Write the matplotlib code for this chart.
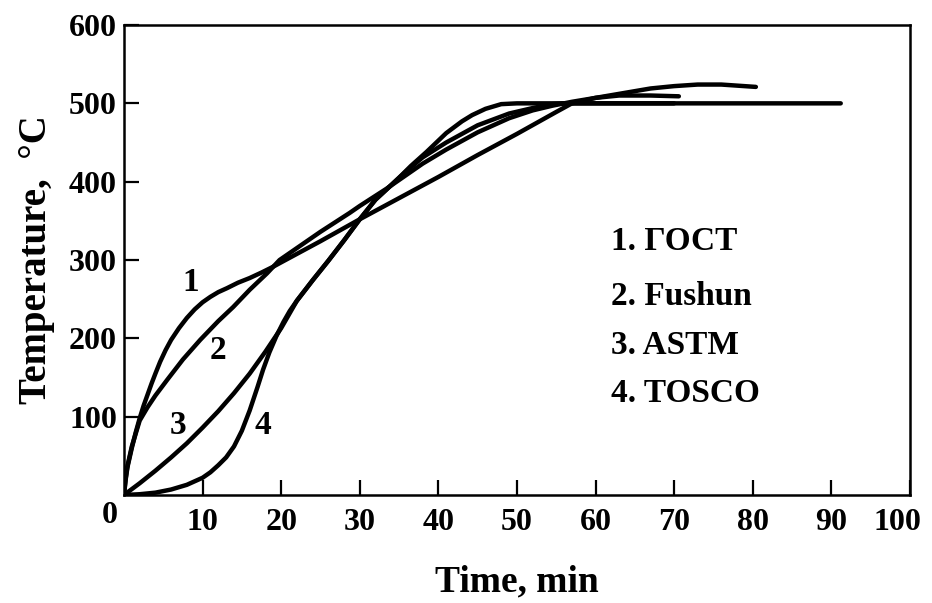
import matplotlib
matplotlib.use("Agg")
import matplotlib.pyplot as plt
from matplotlib.transforms import ScaledTranslation

# ---- data ----
t1 = [0, 0.2, 0.5, 1, 1.5, 2, 2.5, 3, 3.5, 4, 4.6, 5.3, 6, 7, 8, 9, 10, 11, 12, 13.1,
      14.5, 16, 17.5, 18.9, 20, 25, 30, 35, 40, 45, 50, 55, 57, 60, 63.5, 67, 70, 73,
      76, 80.4]
T1 = [0, 20, 38, 60, 80, 98, 114, 128, 142, 155, 170, 185, 198, 213, 226, 237, 246,
      253, 259, 264, 271, 277, 284, 291, 297, 324, 352, 379, 406, 434, 461, 489, 500,
      507, 513, 519, 522, 524, 524, 521]

t2 = [0, 0.4, 1, 2, 3, 4, 5.5, 7.5, 9.7, 12, 13.9, 16, 18.2, 19.8, 22.4, 25, 28.7,
      30, 33.4, 35.7, 38, 41, 45, 49, 52, 54.5, 57, 60, 63, 67, 70.6]
T2 = [0, 35, 62, 95, 112, 127, 147, 173, 198, 222, 240, 262, 283, 300, 318, 336, 360,
      369, 391, 407, 423, 441, 463, 481, 491, 497, 502, 507, 510, 510, 509]

t3 = [0, 2, 4, 6, 8, 10, 12, 14, 16, 18, 20, 22, 24, 26, 28, 30, 32, 33.4, 35,
      36, 38, 41, 45, 49, 52, 54.5, 56, 91.2]
T3 = [0, 15, 31, 48, 66, 86, 107, 130, 155, 183, 213, 248, 274, 299, 325, 352, 377,
      390, 405, 414, 431, 450, 472, 487, 494, 499, 500, 500]

t4 = [0, 2, 4, 6, 8, 10, 11, 12, 13, 14, 15, 16, 17, 17.7, 18.5, 19.4, 20.3, 21.1, 22,
      24, 26, 28, 30, 32, 33.4, 35, 36.5, 38.5, 41, 43, 44.3, 46, 48, 50, 70]
T4 = [0, 1, 3, 7, 13, 22, 29, 38, 48, 62, 82, 108, 138, 160, 182, 203, 221, 235, 248,
      274, 299, 325, 352, 377, 390, 405, 420, 438, 462, 477, 485, 493, 499, 500, 500]

curve_labels = ["1", "2", "3", "4"]
label_x = [8.5, 11.9, 6.9, 17.7]
label_y = [271, 185, 89, 89]

legend_texts = ["1. ГОСТ", "2. Fushun", "3. ASTM", "4. TOSCO"]
legend_y = [324, 253, 191, 129]

xticks = [10, 20, 30, 40, 50, 60, 70, 80, 90, 100]
yticks = [100, 200, 300, 400, 500, 600]

# ---- plotting ----
plt.rcParams['font.family'] = ['Liberation Serif', 'DejaVu Serif']
plt.rcParams['font.weight'] = 'bold'

fig = plt.figure(figsize=(9.32, 6.03), dpi=100)
ax = fig.add_axes([0.1330, 0.1791, 0.8433, 0.7794])

for t, T in [(t1, T1), (t2, T2), (t3, T3), (t4, T4)]:
    ax.plot(t, T, color='black', lw=3.2, solid_capstyle='round', solid_joinstyle='round')

ax.set_xlim(0, 100)
ax.set_ylim(0, 600)
ax.set_xticks(xticks)
ax.set_yticks(yticks)
ax.set_xticklabels([str(v) for v in xticks])
ax.set_yticklabels([str(v) for v in yticks])
ax.tick_params(direction='in', length=11, width=1.6, labelsize=23, pad=5)
ax.tick_params(axis='x', pad=9)
for s in ax.spines.values():
    s.set_linewidth(1.8)

last = ax.get_xticklabels()[-1]
last.set_transform(last.get_transform() + ScaledTranslation(-9 / 72, 0, fig.dpi_scale_trans))

ax.text(-1.8, -26, "0", ha='center', va='center', fontsize=23, fontweight='bold')

for lab, lx, ly in zip(curve_labels, label_x, label_y):
    ax.text(lx, ly, lab, ha='center', va='center', fontsize=24, fontweight='bold')

for txt, ly in zip(legend_texts, legend_y):
    ax.text(62.0, ly, txt, ha='left', va='center', fontsize=24, fontweight='bold')

ax.set_xlabel("Time, min", fontsize=27, fontweight='bold', labelpad=20)
ax.set_ylabel("Temperature,  °C", fontsize=28, fontweight='bold', labelpad=10)

fig.savefig("out.png", dpi=100)
